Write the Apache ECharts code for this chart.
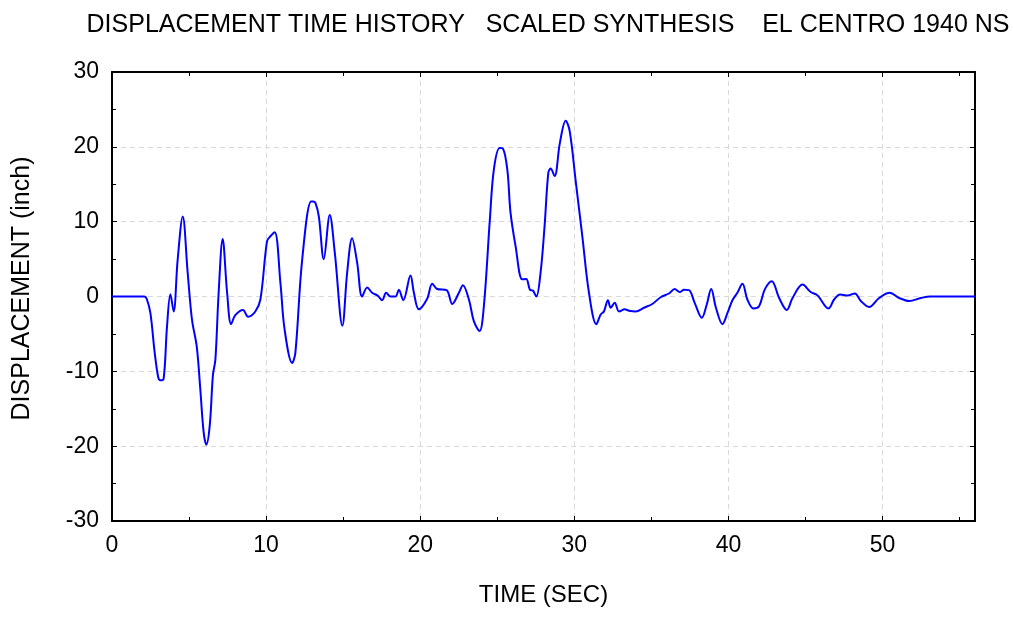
<!DOCTYPE html>
<html>
<head>
<meta charset="utf-8">
<script src="https://cdn.jsdelivr.net/npm/echarts@6/dist/echarts.min.js"></script>
<style>
html,body{margin:0;padding:0;background:#fff;}
#chart{width:1013px;height:618px;}
</style>
</head>
<body>
<div id="chart"></div>
<script>
const titleText = 'DISPLACEMENT TIME HISTORY   SCALED SYNTHESIS    EL CENTRO 1940 NS';
const xAxisName = 'TIME (SEC)';
const yAxisName = 'DISPLACEMENT (inch)';

const timeSec = [0, 2.1, 2.25, 2.49, 2.77, 3.0, 3.14, 3.35, 3.57, 3.79, 4.0, 4.26, 4.59, 4.91, 5.19, 5.5, 5.73, 5.95, 6.12, 6.34, 6.55, 6.71, 6.92, 7.18, 7.47, 7.73, 8.0, 8.5, 8.83, 9.3, 9.63, 10.06, 10.28, 10.56, 10.93, 11.2, 11.69, 11.9, 12.34, 12.92, 13.05, 13.2, 13.42, 13.74, 14.13, 14.46, 14.95, 15.26, 15.58, 15.91, 16.23, 16.56, 16.88, 17.25, 17.53, 17.79, 18.07, 18.4, 18.61, 18.9, 19.37, 19.59, 19.91, 20.45, 20.78, 21.1, 21.71, 22.08, 22.51, 22.77, 23.16, 23.48, 23.85, 24.13, 24.52, 24.78, 25.15, 25.35, 25.65, 25.86, 26.19, 26.62, 26.88, 27.12, 27.31, 27.53, 27.81, 28.07, 28.31, 28.46, 28.72, 29.06, 29.44, 29.7, 30.08, 30.52, 30.95, 31.43, 31.71, 31.92, 32.18, 32.36, 32.62, 32.9, 33.27, 33.55, 33.98, 34.52, 35.06, 35.6, 36.14, 36.51, 36.84, 37.12, 37.44, 37.81, 38.27, 38.59, 38.88, 39.19, 39.61, 39.94, 40.26, 40.58, 40.91, 41.23, 41.62, 41.99, 42.36, 42.81, 43.29, 43.79, 44.16, 44.81, 45.34, 45.78, 46.49, 46.86, 47.25, 47.73, 48.2, 48.59, 49.13, 49.78, 50.47, 51.08, 51.73, 52.49, 53.1, 56];
const dispInch = [0, 0, -0.3, -2.2, -7.5, -10.8, -11.2, -11.0, -4.0, 0.3, -2.0, 4.9, 10.7, 3.2, -3.1, -6.7, -12.4, -18.2, -19.8, -17.3, -10.5, -8.4, 0.5, 7.7, 0.5, -3.7, -2.5, -1.8, -2.7, -2.0, -0.4, 7.4, 8.05, 8.6, 1.8, -4.4, -8.9, -7.5, 4.9, 12.7, 12.7, 12.5, 10.7, 5.0, 10.9, 5.8, -3.9, 3.2, 7.8, 4.5, 0, 1.2, 0.5, 0.1, -0.5, 0.5, 0, 0, 0.9, -0.5, 2.8, 0.5, -1.7, -0.3, 1.7, 1.0, 0.85, -1.0, 0.5, 1.5, -0.4, -3.3, -4.6, -1.3, 10.3, 17.0, 19.85, 19.8, 17.0, 11.2, 6.7, 2.3, 2.35, 0.9, 0.8, 0, 3.2, 9.4, 16.5, 17.1, 16.1, 20.5, 23.5, 22.1, 15.6, 8.05, 0.5, -3.7, -2.4, -2.0, -0.5, -1.5, -0.85, -2.0, -1.7, -1.9, -2.0, -1.5, -1.0, -0.1, 0.4, 1.0, 0.6, 0.9, 0.85, -0.85, -2.85, -1.1, 1.0, -1.5, -3.7, -2.2, -0.5, 0.5, 1.7, -0.4, -1.6, -1.3, 0.95, 2.05, -0.2, -1.8, -0.2, 1.6, 0.6, 0.15, -1.6, -0.4, 0.27, 0.13, 0.4, -0.6, -1.4, -0.2, 0.5, -0.2, -0.6, -0.2, 0, 0];

const seriesData = timeSec.map((t, i) => [t, dispInch[i]]);

const chart = echarts.init(document.getElementById('chart'), null, {renderer: 'canvas'});
const font = 'Liberation Sans, Arial, sans-serif';
const axisLine = {show: true, onZero: false, lineStyle: {color: '#000', width: 2}};
const tick = {show: true, inside: true, length: 5, lineStyle: {color: '#000', width: 1}};
const minor = {show: true, splitNumber: 2, length: 4, lineStyle: {color: '#000', width: 1}};

chart.setOption({
  animation: false,
  backgroundColor: '#fff',
  title: {
    text: titleText,
    left: 543, top: 8, textAlign: 'center',
    textStyle: {fontFamily: font, fontSize: 25, fontWeight: 'normal', color: '#000'}
  },
  grid: {left: 112, right: 38, top: 72, bottom: 97, containLabel: false},
  xAxis: [{
    type: 'value', min: 0, max: 56, interval: 10, position: 'bottom',
    name: xAxisName, nameLocation: 'middle', nameGap: 62,
    nameTextStyle: {fontFamily: font, fontSize: 24, color: '#000'},
    axisLine: axisLine, axisTick: tick, minorTick: minor,
    axisLabel: {fontFamily: font, fontSize: 23, color: '#000', margin: 13, showMaxLabel: false},
    splitLine: {show: true, lineStyle: {color: '#d9d9d9', type: [5, 4], width: 1}}
  }, {
    type: 'value', min: 0, max: 56, interval: 10, position: 'top',
    axisLine: axisLine, axisTick: tick, minorTick: minor,
    axisLabel: {show: false}, splitLine: {show: false}
  }],
  yAxis: [{
    type: 'value', min: -30, max: 30, interval: 10, position: 'left',
    name: yAxisName, nameLocation: 'middle', nameGap: 77,
    nameTextStyle: {fontFamily: font, fontSize: 25, color: '#000', padding: [0, 0, 0, 16]},
    axisLine: axisLine, axisTick: tick, minorTick: minor,
    axisLabel: {fontFamily: font, fontSize: 23, color: '#000', margin: 13},
    splitLine: {show: true, lineStyle: {color: '#d9d9d9', type: [5, 4], width: 1}}
  }, {
    type: 'value', min: -30, max: 30, interval: 10, position: 'right',
    axisLine: axisLine, axisTick: tick, minorTick: minor,
    axisLabel: {show: false}, splitLine: {show: false}
  }],
  series: [{
    type: 'line', data: seriesData, xAxisIndex: 0, yAxisIndex: 0,
    showSymbol: false, smooth: 0.35,
    lineStyle: {color: '#0000ff', width: 2}
  }]
});
</script>
</body>
</html>
